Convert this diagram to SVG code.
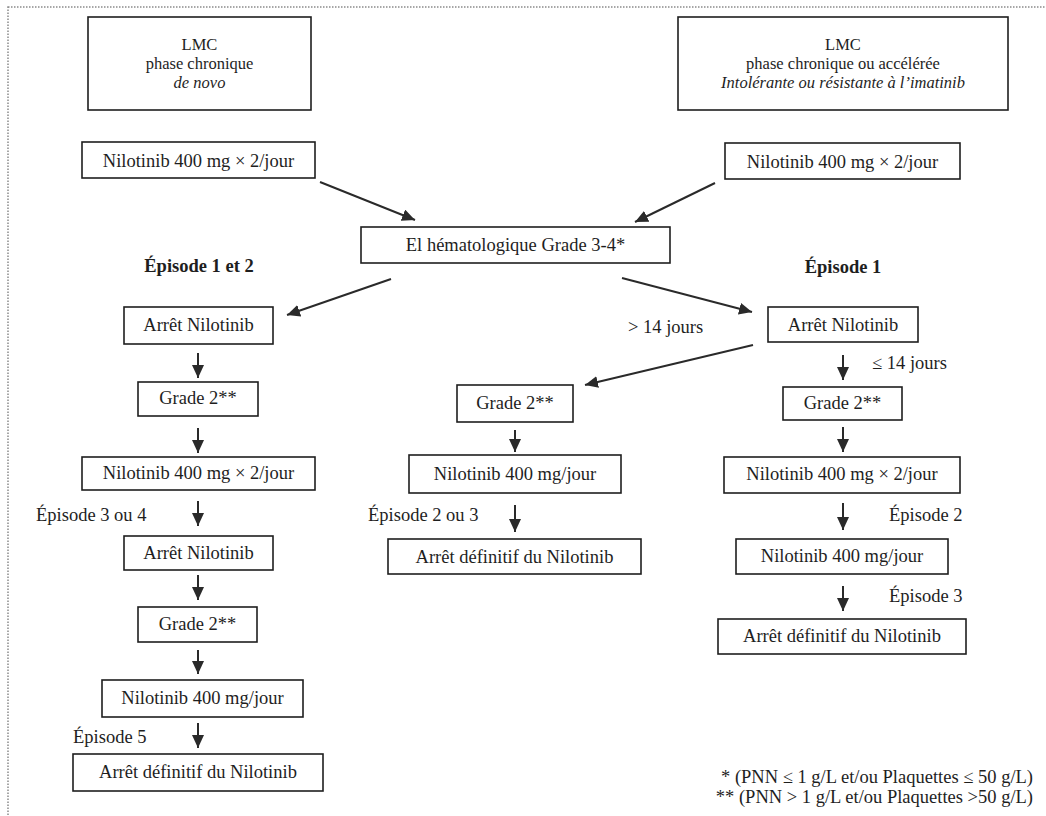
<svg xmlns="http://www.w3.org/2000/svg" width="1046" height="816" viewBox="0 0 1046 816">
<style>
  text { font-family: "Liberation Serif", "DejaVu Serif", serif; font-size: 18.5px; fill: #1e1e1e; }
  .c { text-anchor: middle; }
  .i { font-style: italic; }
  .b { font-weight: bold; }
  .e { text-anchor: end; }
  .s { font-size: 16.5px; }
  rect.box { fill: #ffffff; stroke: #1e1e1e; stroke-width: 1.6; }
  .conn line { stroke: #2a2a2a; stroke-width: 2; marker-end: url(#ah); }
</style>
<defs>
  <marker id="ah" markerUnits="userSpaceOnUse" markerWidth="14" markerHeight="12" refX="13" refY="6" orient="auto">
    <path d="M0,0 L13,6 L0,12 z" fill="#2a2a2a"/>
  </marker>
</defs>
<rect x="0" y="0" width="1046" height="816" fill="#ffffff"/>
<rect x="8" y="7" width="1100" height="900" fill="none" stroke="#8a8a8a" stroke-width="1.5" stroke-dasharray="1.5,1.5"/>

<g id="n1"><rect class="box" x="88" y="17" width="223" height="93"/>
  <text class="c s" x="199.5" y="50">LMC</text>
  <text class="c s" x="199.5" y="69">phase chronique</text>
  <text class="c s i" x="199.5" y="88">de novo</text></g>
<g id="n2"><rect class="box" x="678" y="17" width="330" height="93"/>
  <text class="c s" x="843" y="50">LMC</text>
  <text class="c s" x="843" y="69">phase chronique ou accélérée</text>
  <text class="c s i" x="843" y="88">Intolérante ou résistante à l’imatinib</text></g>
<g id="n3"><rect class="box" x="82" y="142" width="233" height="36"/><text class="c" x="198.5" y="167">Nilotinib 400 mg × 2/jour</text></g>
<g id="n4"><rect class="box" x="725" y="143" width="235" height="36"/><text class="c" x="842.5" y="168">Nilotinib 400 mg × 2/jour</text></g>
<g id="n5"><rect class="box" x="361" y="227" width="309" height="36"/><text class="c" x="515.5" y="251">El hématologique Grade 3-4*</text></g>

<g id="lbl-ep12"><text class="c b" x="199" y="272">Épisode 1 et 2</text></g>
<g id="lbl-ep1"><text class="c b" x="843" y="273">Épisode 1</text></g>

<g id="n6"><rect class="box" x="124" y="307" width="149" height="37"/><text class="c" x="198.5" y="331">Arrêt Nilotinib</text></g>
<g id="n7"><rect class="box" x="138" y="382" width="120" height="34"/><text class="c" x="198" y="404">Grade 2**</text></g>
<g id="n8"><rect class="box" x="82" y="457" width="233" height="33"/><text class="c" x="198.5" y="479">Nilotinib 400 mg × 2/jour</text></g>
<g id="n9"><rect class="box" x="124" y="536" width="149" height="34"/><text class="c" x="198.5" y="559">Arrêt Nilotinib</text></g>
<g id="n10"><rect class="box" x="138" y="607" width="119" height="35"/><text class="c" x="197.5" y="630">Grade 2**</text></g>
<g id="n11"><rect class="box" x="102" y="680" width="201" height="37"/><text class="c" x="202.5" y="704">Nilotinib 400 mg/jour</text></g>
<g id="n12"><rect class="box" x="73" y="754" width="250" height="37"/><text class="c" x="198" y="778">Arrêt définitif  du Nilotinib</text></g>
<g id="lbl-ep34"><text x="36" y="521">Épisode 3 ou 4</text></g>
<g id="lbl-ep5"><text x="73" y="743">Épisode 5</text></g>

<g id="n13"><rect class="box" x="457" y="385" width="116" height="37"/><text class="c" x="515" y="409">Grade 2**</text></g>
<g id="n14"><rect class="box" x="409" y="455" width="212" height="38"/><text class="c" x="515" y="480">Nilotinib 400 mg/jour</text></g>
<g id="n15"><rect class="box" x="388" y="539" width="253" height="35"/><text class="c" x="514.5" y="563">Arrêt définitif  du Nilotinib</text></g>
<g id="lbl-ep23"><text x="368" y="521">Épisode 2 ou 3</text></g>
<g id="lbl-gt14"><text x="628" y="333">&gt; 14 jours</text></g>

<g id="n16"><rect class="box" x="768" y="307" width="150" height="35"/><text class="c" x="843" y="331">Arrêt Nilotinib</text></g>
<g id="n17"><rect class="box" x="783" y="387" width="119" height="33"/><text class="c" x="842.5" y="409">Grade 2**</text></g>
<g id="n18"><rect class="box" x="724" y="457" width="236" height="36"/><text class="c" x="842" y="480">Nilotinib 400 mg × 2/jour</text></g>
<g id="n19"><rect class="box" x="736" y="539" width="212" height="35"/><text class="c" x="842" y="562">Nilotinib 400 mg/jour</text></g>
<g id="n20"><rect class="box" x="718" y="619" width="248" height="35"/><text class="c" x="842" y="642">Arrêt définitif  du Nilotinib</text></g>
<g id="lbl-le14"><text x="872" y="369">≤ 14 jours</text></g>
<g id="lbl-ep2"><text x="889" y="521">Épisode 2</text></g>
<g id="lbl-ep3"><text x="889" y="602">Épisode 3</text></g>

<g id="footnotes">
  <text class="e" x="1033" y="783">* (PNN ≤ 1 g/L et/ou Plaquettes ≤ 50 g/L)</text>
  <text class="e" x="1033" y="803">** (PNN &gt; 1 g/L et/ou Plaquettes &gt;50 g/L)</text>
</g>

<g id="connectors" class="conn">
  <line x1="320" y1="182" x2="415" y2="220"/>
  <line x1="715" y1="183" x2="635" y2="222"/>
  <line x1="391" y1="279" x2="287" y2="315"/>
  <line x1="622" y1="278" x2="752" y2="312"/>
  <line x1="753" y1="345" x2="585" y2="385"/>
  <line x1="198" y1="353" x2="198" y2="378"/>
  <line x1="198" y1="428" x2="198" y2="453"/>
  <line x1="198" y1="501" x2="198" y2="526"/>
  <line x1="198" y1="575" x2="198" y2="600"/>
  <line x1="198" y1="650" x2="198" y2="674"/>
  <line x1="198" y1="723" x2="198" y2="748"/>
  <line x1="515" y1="430" x2="515" y2="452"/>
  <line x1="515" y1="505" x2="515" y2="532"/>
  <line x1="843" y1="355" x2="843" y2="380"/>
  <line x1="843" y1="427" x2="843" y2="452"/>
  <line x1="843" y1="503" x2="843" y2="530"/>
  <line x1="843" y1="586" x2="843" y2="611"/>
</g>
</svg>
